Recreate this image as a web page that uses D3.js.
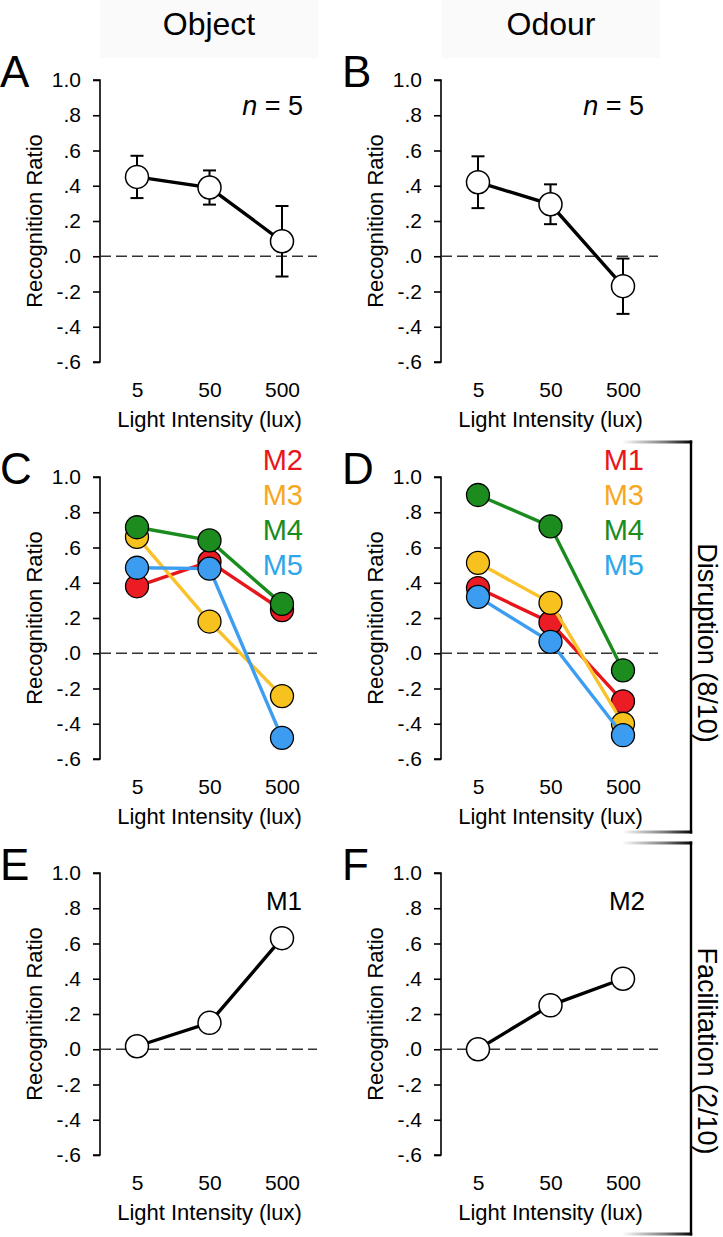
<!DOCTYPE html>
<html><head><meta charset="utf-8">
<script src="https://cdn.jsdelivr.net/npm/d3@7"></script>
<style>
html,body{margin:0;padding:0;background:#fff;}
svg{display:block;font-family:"Liberation Sans",Arial,Helvetica,sans-serif;}
</style></head>
<body><svg id="fig" width="723" height="1237"></svg>
<script>
// ---------- data ----------
const lightLevels = ["5", "50", "500"];
const yTickValues = [1.0, 0.8, 0.6, 0.4, 0.2, 0.0, -0.2, -0.4, -0.6];
const yTickLabels = ["1.0", ".8", ".6", ".4", ".2", ".0", "-.2", "-.4", "-.6"];
const columnTitles = ["Object", "Odour"];
const panelLetters = ["A", "B", "C", "D", "E", "F"];

// group means (A, B) with SEM
const objectMean = [0.45, 0.39, 0.085];
const objectSem  = [0.12, 0.097, 0.20];
const odourMean  = [0.42, 0.295, -0.17];
const odourSem   = [0.147, 0.113, 0.157];

// disruption animals (C: object, D: odour)
const objectDisruptNames = ["M2", "M3", "M4", "M5"];
const objM2 = [0.38, 0.52, 0.245];
const objM3 = [0.66, 0.18, -0.243];
const objM4 = [0.715, 0.64, 0.28];
const objM5 = [0.485, 0.48, -0.48];
const odourDisruptNames = ["M1", "M3", "M4", "M5"];
const odM1 = [0.37, 0.175, -0.273];
const odM3 = [0.513, 0.286, -0.40];
const odM4 = [0.898, 0.72, -0.097];
const odM5 = [0.32, 0.065, -0.465];

// facilitation animals (E: object, F: odour)
const objM1 = [0.017, 0.15, 0.63];
const odM2  = [0.0, 0.249, 0.40];

const groupLabels = ["Disruption (8/10)", "Facilitation (2/10)"];

// ---------- styling ----------
const colors = {
  red:   {line: "#e8161b", fill: "#ec1c24", text: "#e8161b"},
  orange:{line: "#f9c12a", fill: "#f8c21e", text: "#f7a823"},
  green: {line: "#1a8c1e", fill: "#1c8c1f", text: "#1a8c1e"},
  blue:  {line: "#3d9df0", fill: "#3c9cf0", text: "#2ea7ea"}
};
const seriesColors = ["red", "orange", "green", "blue"];

const svg = d3.select("#fig");
const colAxisX = [100, 441];
const rowTop = [80, 477, 873];
const plotH = 282;
const R = 11.5;

function makePanel(col, row) {
  const ax = colAxisX[col], top = rowTop[row];
  const x = d3.scalePoint().domain(lightLevels).range([ax + 37, ax + 182]);
  const y = d3.scaleLinear().domain([-0.6, 1.0]).range([top + plotH, top]);
  const g = svg.append("g");
  // y axis
  const yAxis = d3.axisLeft(y).tickValues(yTickValues)
    .tickFormat((d, i) => yTickLabels[i]).tickSize(7).tickPadding(12);
  const ag = g.append("g").attr("transform", `translate(${ax},0)`).call(yAxis);
  ag.select(".domain").attr("stroke", "#000").attr("stroke-width", 1.6).attr("d", `M-7,${y(1)}H0V${y(-0.6)}H-7`);
  ag.selectAll(".tick line").attr("stroke", "#000").attr("stroke-width", 1.6);
  ag.selectAll(".tick text").attr("font-size", 21).attr("fill", "#000")
    .attr("font-family", '"Liberation Sans",Arial,sans-serif');
  // x tick labels (no axis line)
  const xAxis = d3.axisBottom(x).tickSize(0).tickPadding(0);
  const xg = g.append("g").attr("transform", `translate(0,${top + plotH + 20})`).call(xAxis);
  xg.select(".domain").remove();
  xg.selectAll(".tick text").attr("font-size", 21).attr("fill", "#000")
    .attr("font-family", '"Liberation Sans",Arial,sans-serif').attr("dy", "0.71em");
  // x label
  g.append("text").attr("x", (x("5") + x("500")) / 2).attr("y", top + plotH + 65)
    .attr("text-anchor", "middle").attr("font-size", 22).text("Light Intensity (lux)");
  // y label
  g.append("text").attr("transform", `translate(${ax - 58},${(y(1) + y(-0.6)) / 2}) rotate(-90)`)
    .attr("text-anchor", "middle").attr("font-size", 22).text("Recognition Ratio");
  // zero line
  g.append("line").attr("x1", ax).attr("x2", ax + 217).attr("y1", y(0)).attr("y2", y(0))
    .attr("stroke", "#333").attr("stroke-width", 1.5).attr("stroke-dasharray", "11,5");
  // panel letter
  g.append("text").attr("x", col === 0 ? 0 : 342).attr("y", top + 7)
    .attr("font-size", 44).text(panelLetters[row * 2 + col]);
  return {g, x, y, ax, top};
}

function drawBlack(p, vals, sem) {
  const line = d3.line().x((d, i) => p.x(lightLevels[i])).y(d => p.y(d));
  if (sem) {
    vals.forEach((v, i) => {
      const cx = p.x(lightLevels[i]);
      p.g.append("line").attr("x1", cx).attr("x2", cx).attr("y1", p.y(v + sem[i])).attr("y2", p.y(v - sem[i]))
        .attr("stroke", "#000").attr("stroke-width", 2);
      [v + sem[i], v - sem[i]].forEach(e => p.g.append("line").attr("x1", cx - 6.5).attr("x2", cx + 6.5)
        .attr("y1", p.y(e)).attr("y2", p.y(e)).attr("stroke", "#000").attr("stroke-width", 2));
    });
  }
  p.g.append("path").datum(vals).attr("d", line).attr("fill", "none").attr("stroke", "#000").attr("stroke-width", 3.4);
  p.g.selectAll(null).data(vals).enter().append("circle")
    .attr("cx", (d, i) => p.x(lightLevels[i])).attr("cy", d => p.y(d)).attr("r", R)
    .attr("fill", "#fff").attr("stroke", "#000").attr("stroke-width", 1.5);
}

function drawColored(p, seriesList, names) {
  const line = d3.line().x((d, i) => p.x(lightLevels[i])).y(d => p.y(d));
  seriesList.forEach((vals, k) => {
    const c = colors[seriesColors[k]];
    p.g.append("path").datum(vals).attr("d", line).attr("fill", "none").attr("stroke", c.line).attr("stroke-width", 3.4);
    p.g.selectAll(null).data(vals).enter().append("circle")
      .attr("cx", (d, i) => p.x(lightLevels[i])).attr("cy", d => p.y(d)).attr("r", R)
      .attr("fill", c.fill).attr("stroke", "#000").attr("stroke-width", 1.3);
  });
  names.forEach((n, k) => {
    p.g.append("text").attr("x", p.ax + 203).attr("y", p.top - 7 + k * 35)
      .attr("text-anchor", "end").attr("font-size", 29).attr("fill", colors[seriesColors[k]].text).text(n);
  });
}

// column headers
columnTitles.forEach((t, i) => {
  const cx = [209, 551][i];
  svg.append("rect").attr("x", cx - 109).attr("y", 0).attr("width", 218).attr("height", 58).attr("fill", "#fafafa");
  svg.append("text").attr("x", cx).attr("y", 35).attr("text-anchor", "middle").attr("font-size", 32).text(t);
});

// A, B
const pA = makePanel(0, 0); drawBlack(pA, objectMean, objectSem);
const pB = makePanel(1, 0); drawBlack(pB, odourMean, odourSem);
[pA, pB].forEach(p => {
  const t = p.g.append("text").attr("x", p.ax + 203).attr("y", p.top + 35).attr("text-anchor", "end").attr("font-size", 27);
  t.append("tspan").attr("font-style", "italic").text("n");
  t.append("tspan").text(" = 5");
});
// C, D
const pC = makePanel(0, 1); drawColored(pC, [objM2, objM3, objM4, objM5], objectDisruptNames);
const pD = makePanel(1, 1); drawColored(pD, [odM1, odM3, odM4, odM5], odourDisruptNames);
// E, F
const pE = makePanel(0, 2); drawBlack(pE, objM1, null);
const pF = makePanel(1, 2); drawBlack(pF, odM2, null);
pE.g.append("text").attr("x", pE.ax + 202).attr("y", pE.top + 37).attr("text-anchor", "end").attr("font-size", 26).text("M1");
pF.g.append("text").attr("x", pF.ax + 204).attr("y", pF.top + 37).attr("text-anchor", "end").attr("font-size", 26).text("M2");

// brackets
const defs = svg.append("defs");
const grad = defs.append("linearGradient").attr("id", "fade").attr("x1", "0").attr("x2", "1").attr("y1", "0").attr("y2", "0");
grad.append("stop").attr("offset", "0").attr("stop-color", "#000").attr("stop-opacity", 0);
grad.append("stop").attr("offset", "0.6").attr("stop-color", "#000").attr("stop-opacity", 0.5);
grad.append("stop").attr("offset", "1").attr("stop-color", "#000").attr("stop-opacity", 1);
const brackets = [{y0: 442, y1: 832}, {y0: 843, y1: 1234}];
brackets.forEach((b, i) => {
  const bx = 691;
  [b.y0, b.y1].forEach(yy => svg.append("rect").attr("x", 622).attr("y", yy - 1.5).attr("width", bx - 622 + 1.2).attr("height", 3).attr("fill", "url(#fade)"));
  svg.append("line").attr("x1", bx).attr("x2", bx).attr("y1", b.y0 - 1.5).attr("y2", b.y1 + 1.5).attr("stroke", "#000").attr("stroke-width", 2.4);
  svg.append("text").attr("transform", `translate(698,${i === 0 ? 643 : 1051}) rotate(90)`)
    .attr("text-anchor", "middle").attr("font-size", 27).text(groupLabels[i]);
});
</script></body></html>
